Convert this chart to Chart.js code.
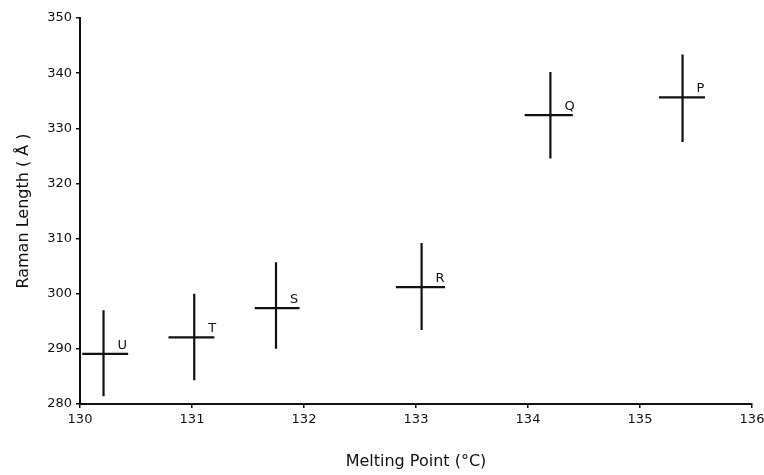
<!DOCTYPE html>
<html>
<head>
<meta charset="utf-8">
<script src="https://cdn.jsdelivr.net/npm/chart.js@4.4.0/dist/chart.umd.min.js"></script>
<style>
  html, body { margin: 0; padding: 0; background: #fff; }
  #wrap { width: 764px; height: 475px; }
</style>
</head>
<body>
<div id="wrap"><canvas id="chart" width="764" height="475"></canvas></div>
<script>
const sampleLabels = ['U', 'T', 'S', 'R', 'Q', 'P'];
const meltingPoint = [130.21, 131.02, 131.75, 133.05, 134.2, 135.38];
const meltLow = [130.02, 130.79, 131.56, 132.82, 133.97, 135.17];
const meltHigh = [130.43, 131.2, 131.96, 133.26, 134.4, 135.58];
const ramanLength = [289.1, 292.1, 297.4, 301.2, 332.4, 335.6];
const ramanLow = [281.4, 284.3, 290.0, 293.4, 324.5, 327.5];
const ramanHigh = [297.0, 300.0, 305.7, 309.2, 340.2, 343.4];
const xTicks = [130, 131, 132, 133, 134, 135, 136];
const yTicks = [280, 290, 300, 310, 320, 330, 340, 350];

const points = meltingPoint.map((m, i) => ({ x: m, y: ramanLength[i] }));

// draw the crosses (error bars) and letter labels
const crossPlugin = {
  id: 'crosses',
  afterDatasetsDraw(chart) {
    const ctx = chart.ctx;
    const xs = chart.scales.x;
    const ys = chart.scales.y;
    ctx.save();
    ctx.strokeStyle = '#111';
    ctx.lineWidth = 2.2;
    ctx.lineCap = 'butt';
    for (let i = 0; i < meltingPoint.length; i++) {
      const cx = xs.getPixelForValue(meltingPoint[i]);
      const cy = ys.getPixelForValue(ramanLength[i]);
      ctx.beginPath();
      ctx.moveTo(xs.getPixelForValue(meltLow[i]), cy);
      ctx.lineTo(xs.getPixelForValue(meltHigh[i]), cy);
      ctx.moveTo(cx, ys.getPixelForValue(ramanLow[i]));
      ctx.lineTo(cx, ys.getPixelForValue(ramanHigh[i]));
      ctx.stroke();
      ctx.fillStyle = '#111';
      ctx.font = '13px "DejaVu Sans", sans-serif';
      ctx.textAlign = 'left';
      ctx.textBaseline = 'bottom';
      ctx.fillText(sampleLabels[i], cx + 14, cy - 2);
    }
    ctx.restore();
  }
};

new Chart(document.getElementById('chart'), {
  type: 'scatter',
  data: {
    datasets: [{
      label: 'Raman length',
      data: points,
      pointRadius: 0,
      showLine: false
    }]
  },
  options: {
    responsive: false,
    animation: false,
    layout: { padding: { top: 18, right: 0, left: 0, bottom: 0 } },
    plugins: { legend: { display: false }, tooltip: { enabled: false } },
    scales: {
      x: {
        type: 'linear',
        min: 130,
        max: 136,
        afterBuildTicks(scale) { scale.ticks = xTicks.map(v => ({ value: v })); },
        afterFit(scale) {
          scale.height = 71;
          scale.paddingRight = 12;
        },
        border: { display: true, color: '#111', width: 2 },
        grid: { drawOnChartArea: false, drawTicks: true, tickLength: 4, color: '#111', lineWidth: 1.5 },
        ticks: { color: '#111', padding: 4, font: { family: 'DejaVu Sans', size: 13 } },
        title: {
          display: true,
          text: 'Melting Point (°C)',
          color: '#111',
          padding: { top: 20 },
          font: { family: 'DejaVu Sans', size: 16 }
        }
      },
      y: {
        type: 'linear',
        min: 280,
        max: 350,
        afterBuildTicks(scale) { scale.ticks = yTicks.map(v => ({ value: v })); },
        afterFit(scale) { scale.width = 80; },
        border: { display: true, color: '#111', width: 2 },
        grid: { drawOnChartArea: false, drawTicks: true, tickLength: 4, color: '#111', lineWidth: 1.5 },
        ticks: { color: '#111', padding: 4, font: { family: 'DejaVu Sans', size: 13 } },
        title: {
          display: true,
          text: 'Raman Length ( Å )',
          color: '#111',
          padding: { top: 14, bottom: 4 },
          font: { family: 'DejaVu Sans', size: 16 }
        }
      }
    }
  },
  plugins: [crossPlugin]
});
</script>
</body>
</html>
